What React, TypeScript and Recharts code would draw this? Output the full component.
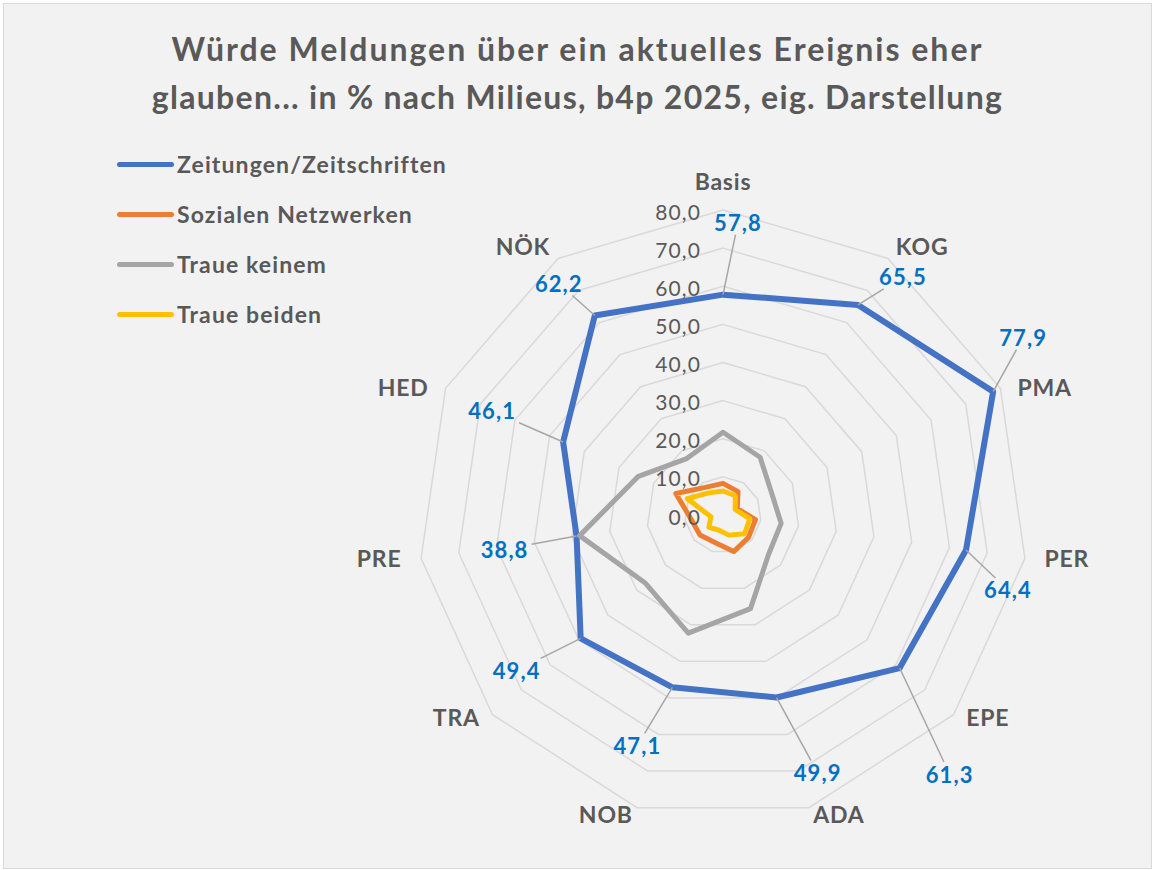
import { RadarChart, Radar, PolarGrid, PolarAngleAxis, PolarRadiusAxis, Legend } from 'recharts';

// Milieus (clockwise from top)
const MILIEUS = ['Basis', 'KOG', 'PMA', 'PER', 'EPE', 'ADA', 'NOB', 'TRA', 'PRE', 'HED', 'NÖK'];

// values in %
const ZEITUNGEN = [57.8, 65.5, 77.9, 64.4, 61.3, 49.9, 47.1, 49.4, 38.8, 46.1, 62.2];
const SOZIALE = [8.3, 7.3, 4.1, 8.6, 8.9, 10.0, 7.5, 8.0, 8.4, 13.6, 8.6];
const KEINEM = [21.7, 18.0, 14.0, 15.4, 15.8, 25.6, 32.3, 27.1, 38.0, 24.4, 17.6];
const BEIDEN = [6.3, 6.0, 3.5, 7.1, 7.5, 5.5, 4.1, 4.9, 3.2, 10.3, 6.9];

const RADIUS_TICKS = [0, 10, 20, 30, 40, 50, 60, 70, 80];

const TITLE_LINES = [
  'Würde Meldungen über ein aktuelles Ereignis eher',
  'glauben... in % nach Milieus, b4p 2025, eig. Darstellung',
];

const SERIES = [
  { key: 'zeitungen', name: 'Zeitungen/Zeitschriften', color: '#4472c4', width: 6 },
  { key: 'soziale', name: 'Sozialen Netzwerken', color: '#ed7d31', width: 5 },
  { key: 'keinem', name: 'Traue keinem', color: '#a5a5a5', width: 5 },
  { key: 'beiden', name: 'Traue beiden', color: '#ffc000', width: 5 },
];

const data = MILIEUS.map((m, i) => ({
  milieu: m,
  zeitungen: ZEITUNGEN[i],
  soziale: SOZIALE[i],
  keinem: KEINEM[i],
  beiden: BEIDEN[i],
}));

// layout
const W = 1147;
const H = 864;
const CX = 719;
const CY = 511;
const R = 305;
const FONT = 'Lato, "Open Sans", sans-serif';
const TEXT = '#595959';

// the data labels were dragged by hand in the original; nudge relative to the point
const LABEL_NUDGE: [number, number][] = [
  [15, -72], [45, -28], [30, -54], [42, 40], [50, 106], [41, 75],
  [-35, 58], [-64, 32], [-72, 13], [-71, -31], [-36, -32],
];

const fmt = (v: number) => v.toFixed(1).replace('.', ',');

function ValueLabel(props: any) {
  const { cx, cy, index } = props;
  if (cx == null || cy == null) return <g key={`vl-${index}`} />;
  const [dx, dy] = LABEL_NUDGE[index] ?? [0, -40];
  const lx = cx + dx;
  const ly = cy + dy;
  // leader line ends at the edge of the label box
  const hw = 27;
  const hh = 12;
  const vx = cx - lx;
  const vy = cy - ly;
  const s = Math.min(hw / Math.max(Math.abs(vx), 1e-6), hh / Math.max(Math.abs(vy), 1e-6));
  return (
    <g key={`vl-${index}`}>
      <line x1={cx} y1={cy} x2={lx + vx * s} y2={ly + vy * s} stroke="#a6a6a6" strokeWidth={1.5} />
      <text
        x={lx}
        y={ly}
        textAnchor="middle"
        dominantBaseline="central"
        fill="#0070c0"
        fontFamily={FONT}
        fontWeight={700}
        fontSize={22}
        letterSpacing={1.1}
      >
        {fmt(ZEITUNGEN[index])}
      </text>
    </g>
  );
}

function AngleTick(props: any) {
  const { payload, index } = props;
  const ang = payload?.coordinate ?? 90 - (index * 360) / MILIEUS.length;
  const rad = (-ang * Math.PI) / 180;
  const ux = Math.cos(rad);
  const uy = Math.sin(rad);
  const vx = CX + R * ux;
  const vy = CY + R * uy;
  const common = {
    fill: TEXT,
    fontFamily: FONT,
    fontWeight: 700,
    fontSize: 23,
    letterSpacing: 0.8,
    dominantBaseline: 'central' as const,
  };
  if (Math.abs(ux) < 0.01) {
    return <text x={vx} y={vy - 29} textAnchor="middle" {...common}>{payload.value}</text>;
  }
  // Excel sets the category labels beside the outer ring's corner
  const gap = 3 + 17 * ux * ux;
  const yOff = uy < 0 ? -1 - 26 * Math.max(0, -uy - 0.4) : -1 + 8 * uy * uy;
  return (
    <text x={vx + Math.sign(ux) * gap} y={vy + yOff} textAnchor={ux > 0 ? 'start' : 'end'} {...common}>
      {payload.value}
    </text>
  );
}

function RadiusTick(props: any) {
  const { x, y, payload } = props;
  return (
    <text
      x={x - 22}
      y={y + 1}
      textAnchor="end"
      dominantBaseline="central"
      fill={TEXT}
      fontFamily={FONT}
      fontSize={21}
      letterSpacing={1.1}
    >
      {fmt(payload.value)}
    </text>
  );
}

function LegendContent(props: any) {
  const items = props.payload ?? [];
  return (
    <div style={{ fontFamily: FONT }}>
      {items.map((it: any) => (
        <div key={it.value} style={{ display: 'flex', alignItems: 'center', height: 50 }}>
          <span style={{ display: 'inline-block', width: 57, height: 5, borderRadius: 2.5, background: it.color, marginRight: 3 }} />
          <span style={{ fontSize: 23, fontWeight: 700, color: TEXT, letterSpacing: 1.1 }}>{it.value}</span>
        </div>
      ))}
    </div>
  );
}

const legendOrder = (item: any) => SERIES.findIndex((s) => s.name === item.value);

export default function App() {
  return (
    <div style={{ position: 'absolute', left: 0, top: 0, width: 1154, height: 870, background: '#ffffff' }}>
      <div
        style={{
          position: 'absolute',
          left: 3,
          top: 3,
          width: W,
          height: H,
          border: '1px solid #d9d9d9',
          background: '#f2f2f2',
        }}
      >
        <div
          style={{
            position: 'absolute',
            left: 0,
            top: 21,
            width: W,
            textAlign: 'center',
            fontFamily: FONT,
            fontWeight: 700,
            fontSize: 32,
            letterSpacing: 1.3,
            lineHeight: '48px',
            color: TEXT,
          }}
        >
          {TITLE_LINES.map((t, i) => (
            <div key={t} style={i === 0 ? { letterSpacing: 2 } : undefined}>{t}</div>
          ))}
        </div>
        <RadarChart width={W} height={H} data={data} cx={CX} cy={CY} outerRadius={R} margin={{ top: 0, right: 0, bottom: 0, left: 0 }}>
          <PolarGrid gridType="polygon" radialLines={false} stroke="#d9d9d9" strokeWidth={1.5} />
          <PolarAngleAxis dataKey="milieu" tick={<AngleTick />} tickLine={false} axisLine={false} />
          <PolarRadiusAxis
            angle={90}
            domain={[0, 80]}
            ticks={RADIUS_TICKS as any}
            tickCount={9}
            axisLine={false}
            tickLine={false}
            tick={<RadiusTick />}
          />
          {SERIES.map((s) => (
            <Radar
              key={s.key}
              name={s.name}
              dataKey={s.key}
              stroke={s.color}
              strokeWidth={s.width}
              strokeLinejoin="round"
              fill="none"
              fillOpacity={0}
              dot={s.key === 'zeitungen' ? (p: any) => <ValueLabel {...p} /> : false}
              isAnimationActive={false}
            />
          ))}
          <Legend
            layout="vertical"
            content={<LegendContent />}
            itemSorter={legendOrder as any}
            wrapperStyle={{ left: 113, top: 135, width: 400 }}
          />
        </RadarChart>
      </div>
    </div>
  );
}
